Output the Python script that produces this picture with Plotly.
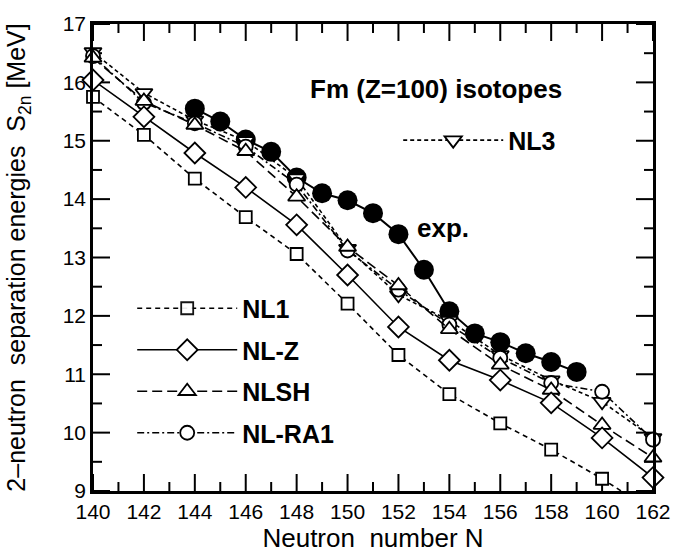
import numpy as np
import plotly.graph_objects as go

# ---------------- data ----------------
N_even = [140, 142, 144, 146, 148, 150, 152, 154, 156, 158, 160, 162]
nl1 = [15.75, 15.10, 14.35, 13.69, 13.06, 12.21, 11.33, 10.66, 10.16, 9.71, 9.21, 8.65]
nlz = [16.04, 15.41, 14.79, 14.20, 13.56, 12.70, 11.81, 11.24, 10.90, 10.51, 9.91, 9.23]
nlsh = [16.42, 15.68, 15.27, 14.82, 14.04, 13.18, 12.52, 11.77, 11.16, 10.73, 10.13, 9.57]
nlra1 = [16.45, 15.65, 15.30, 14.90, 14.25, 13.12, 12.45, 11.85, 11.28, 10.85, 10.70, 9.88]
nl3 = [16.52, 15.82, 15.35, 15.00, 14.36, 13.15, 12.36, 11.92, 11.33, 10.90, 10.53, 9.91]

N_exp = [144, 145, 146, 147, 148, 149, 150, 151, 152, 153, 154, 155, 156, 157, 158, 159]
s2n_exp = [15.55, 15.33, 15.02, 14.81, 14.37, 14.10, 13.98, 13.76, 13.40, 12.79,
           12.08, 11.70, 11.55, 11.36, 11.21, 11.04]

x_range = [140, 162]
y_range = [9, 17]

# ---------------- figure ----------------
FONT = "Liberation Sans"
W, H = 697, 559
ML, MR, MT, MB = 93, 44, 24, 68
PW, PH = W - ML - MR, H - MT - MB

fig = go.Figure()

# ---- inward tick marks on all four sides, derived from the axis ranges ----
MAJ, MIN = 17, 9  # px
ux = (x_range[1] - x_range[0]) / PW  # data units per px (x)
uy = (y_range[1] - y_range[0]) / PH  # data units per px (y)
tx, ty = [], []
for xv in np.arange(x_range[0], x_range[1] + 0.5, 1.0):
    L = (MAJ if (xv - x_range[0]) % 2 == 0 else MIN) * uy
    xv = float(xv)
    tx += [xv, xv, None, xv, xv, None]
    ty += [y_range[0], y_range[0] + L, None, y_range[1] - L, y_range[1], None]
for yv in np.arange(y_range[0], y_range[1] + 0.25, 0.5):
    L = (MAJ if (yv - y_range[0]) % 1 == 0 else MIN) * ux
    yv = float(yv)
    tx += [x_range[0], x_range[0] + L, None, x_range[1] - L, x_range[1], None]
    ty += [yv, yv, None, yv, yv, None]
fig.add_trace(go.Scatter(x=tx, y=ty, mode="lines", showlegend=False, hoverinfo="skip",
                         line=dict(color="black", width=2), connectgaps=False))

fig.add_trace(go.Scatter(
    x=N_exp, y=s2n_exp, mode="lines+markers", showlegend=False,
    line=dict(color="black", width=2),
    marker=dict(symbol="circle", size=20, color="black"),
    cliponaxis=False,
))


def theory(name, y, symbol, size, dash, legend, rank):
    y = np.asarray(y)
    vis = np.where(y >= y_range[0], 1.0, 0.0)
    fig.add_trace(go.Scatter(
        x=N_even, y=y, mode="lines+markers", name=name,
        legend=legend, legendgroup=name, legendrank=rank,
        line=dict(color="black", width=1.6, dash=dash),
        marker=dict(symbol=symbol, size=size, color="white", opacity=vis,
                    line=dict(color="black", width=1.8)),
        cliponaxis=False,
    ))


theory("NL3", nl3, "triangle-down", 15, "4px,3px", "legend2", 5)
theory("NL-RA1", nlra1, "circle", 14, "7px,3px,2px,3px", "legend", 4)
theory("NLSH", nlsh, "triangle-up", 15, "10px,5px", "legend", 3)
theory("NL-Z", nlz, "diamond", 16, "solid", "legend", 2)
theory("NL1", nl1, "square", 12, "5px,4px", "legend", 1)

fig.update_xaxes(
    range=x_range, tickmode="linear", dtick=2, tick0=140,
    showline=True, linecolor="black", linewidth=2.5, mirror=True,
    ticks="", showgrid=False, zeroline=False,
    tickfont=dict(family=FONT, size=21, color="black"),
    title=dict(text="Neutron\u00a0 number N", font=dict(family=FONT, size=26, color="black"),
               standoff=2),
)
fig.update_yaxes(
    range=y_range, tickmode="linear", dtick=1, tick0=9,
    showline=True, linecolor="black", linewidth=2.5, mirror=True,
    ticks="", showgrid=False, zeroline=False,
    tickfont=dict(family=FONT, size=21, color="black"),
    title=dict(text="2\u2013neutron\u00a0 separation energies\u00a0 S<sub>2n</sub> [MeV]",
               font=dict(family=FONT, size=25, color="black"), standoff=30),
)

legend_font = dict(family=FONT, size=25, color="black", weight="bold")
fig.update_layout(
    width=W, height=H,
    margin=dict(l=ML, r=MR, t=MT, b=MB),
    plot_bgcolor="white", paper_bgcolor="white",
    legend=dict(x=0.07, y=0.44, xanchor="left", yanchor="top",
                font=legend_font, bgcolor="rgba(0,0,0,0)",
                itemwidth=100, traceorder="grouped", tracegroupgap=6),
    legend2=dict(x=0.545, y=0.80, xanchor="left", yanchor="top",
                 font=legend_font, bgcolor="rgba(0,0,0,0)", itemwidth=100),
    annotations=[
        dict(text="Fm (Z=100) isotopes", x=0.6125, y=0.861, xref="paper", yref="paper",
             xanchor="center", yanchor="middle", showarrow=False,
             font=dict(family=FONT, size=26, color="black", weight="bold")),
        dict(text="exp.", x=153.75, y=13.5, xref="x", yref="y",
             showarrow=False, font=dict(family=FONT, size=26, color="black", weight="bold")),
    ],
)

fig.write_html("out.html")
